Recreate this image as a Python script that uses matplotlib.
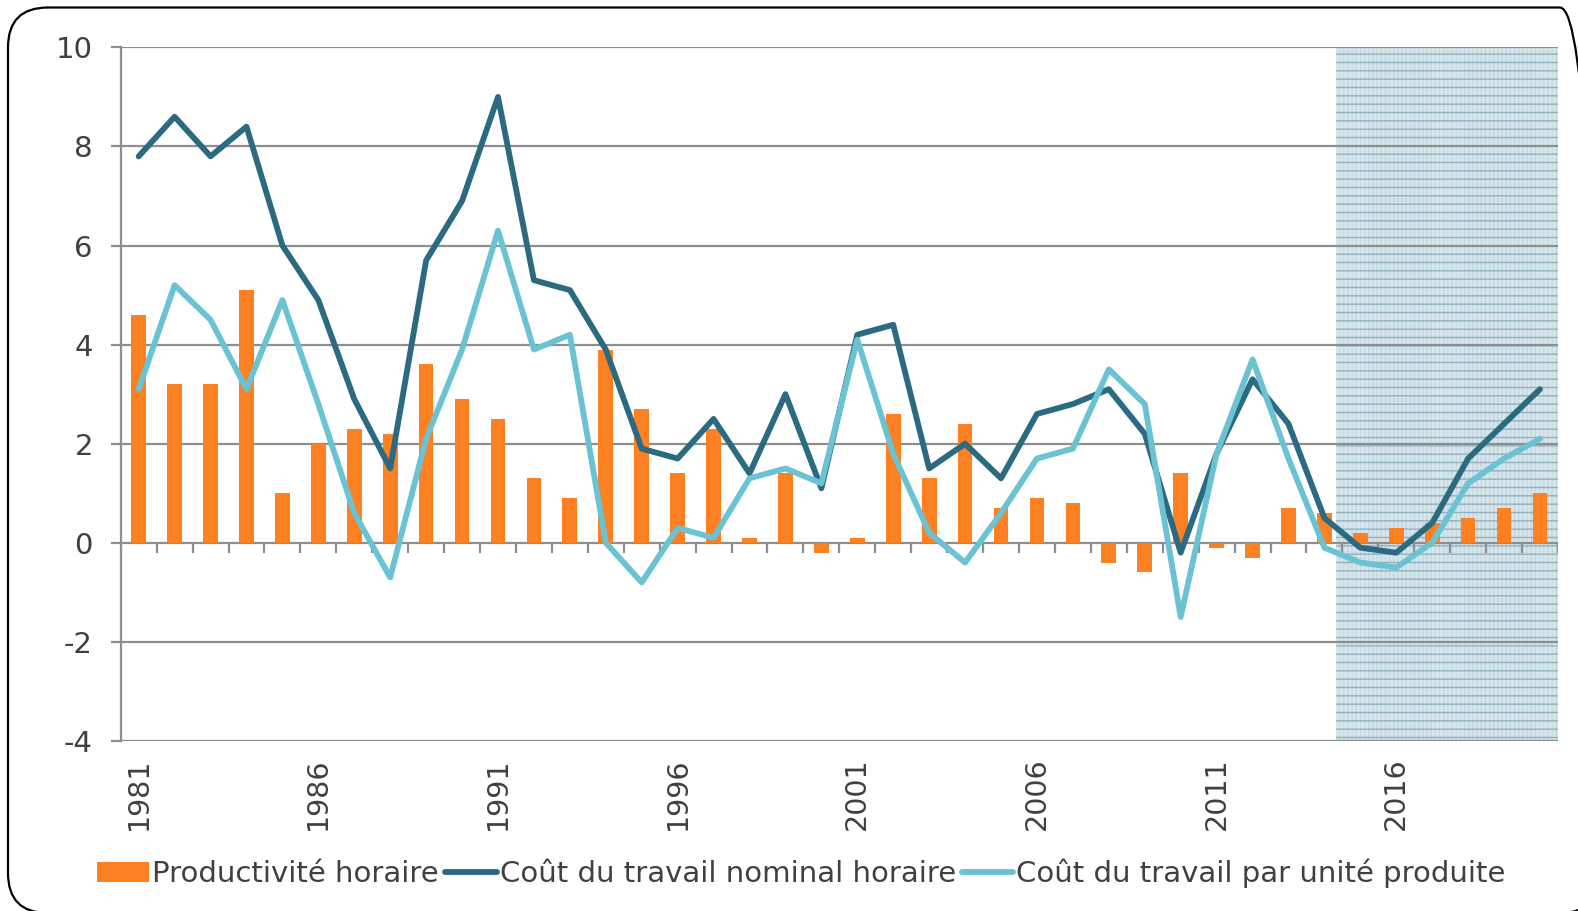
import matplotlib
matplotlib.use("Agg")
import matplotlib.pyplot as plt
from matplotlib.patches import FancyBboxPatch
import numpy as np

years = list(range(1981, 2021))
productivite = [4.6, 3.2, 3.2, 5.1, 1.0, 2.0, 2.3, 2.2, 3.6, 2.9,
                2.5, 1.3, 0.9, 3.9, 2.7, 1.4, 2.3, 0.1, 1.4, -0.2,
                0.1, 2.6, 1.3, 2.4, 0.7, 0.9, 0.8, -0.4, -0.6, 1.4,
                -0.1, -0.3, 0.7, 0.6, 0.2, 0.3, 0.4, 0.5, 0.7, 1.0]
cout_nominal = [7.8, 8.6, 7.8, 8.4, 6.0, 4.9, 2.9, 1.5, 5.7, 6.9,
                9.0, 5.3, 5.1, 3.9, 1.9, 1.7, 2.5, 1.4, 3.0, 1.1,
                4.2, 4.4, 1.5, 2.0, 1.3, 2.6, 2.8, 3.1, 2.2, -0.2,
                1.8, 3.3, 2.4, 0.5, -0.1, -0.2, 0.4, 1.7, 2.4, 3.1]
cout_unitaire = [3.1, 5.2, 4.5, 3.1, 4.9, 2.8, 0.6, -0.7, 2.1, 3.9,
                 6.3, 3.9, 4.2, 0.0, -0.8, 0.3, 0.1, 1.3, 1.5, 1.2,
                 4.1, 1.8, 0.2, -0.4, 0.6, 1.7, 1.9, 3.5, 2.8, -1.5,
                 1.8, 3.7, 1.7, -0.1, -0.4, -0.5, 0.0, 1.2, 1.7, 2.1]
labels = ["Productivité horaire", "Coût du travail nominal horaire",
          "Coût du travail par unité produite"]
yticks = [-4, -2, 0, 2, 4, 6, 8, 10]
label_years = [1981, 1986, 1991, 1996, 2001, 2006, 2011, 2016]
shade_start_year = 2014.32

ORANGE = "#fd8023"
DARK = "#2b6a81"
LIGHT = "#6bc2d2"
GRID = "#8e8e8e"
TXT = "#404040"

plt.rcParams['font.family'] = ['DejaVu Sans']

fig = plt.figure(figsize=(15.78, 9.11), dpi=100)
ax = fig.add_axes([0.0765, 0.1867, 0.9873 - 0.0765, 0.948 - 0.1867])

x = np.arange(len(years))

# shaded forecast zone
x0 = shade_start_year - years[0]
x1 = len(years) - 0.5
ax.axvspan(x0, x1, facecolor="#d9e7ec", edgecolor="none", zorder=0.2)
plt.rcParams['hatch.linewidth'] = 1.0
ax.axvspan(x0, x1, facecolor="none", edgecolor="#c2d7e0", hatch="||||",
           linewidth=0, zorder=0.25)
ax.axvspan(x0, x1, facecolor="none", edgecolor="#8fb1c0", hatch="--",
           linewidth=0, zorder=0.3)

# gridlines
for v in yticks:
    ax.axhline(v, color=GRID, lw=1.6, zorder=0.5)

b = ax.bar(x, productivite, width=0.41, color=ORANGE, zorder=2, label=labels[0])
l1, = ax.plot(x, cout_nominal, color=DARK, lw=4.2, zorder=3, label=labels[1],
              solid_joinstyle='round', solid_capstyle='round')
l2, = ax.plot(x, cout_unitaire, color=LIGHT, lw=4.2, zorder=4, label=labels[2],
              solid_joinstyle='round', solid_capstyle='round')

# category boundary ticks on the zero line
bounds = np.arange(len(years) + 1) - 0.5
ax.vlines(bounds, -0.2, 0, color=GRID, lw=1.6, zorder=0.6)

ax.set_xlim(-0.5, x1)
ax.set_ylim(-4, 10)
ax.set_yticks(yticks)
ax.set_yticklabels([str(v) for v in yticks], fontsize=21, color=TXT)
ax.tick_params(axis='y', length=7, width=1.6, color=GRID, pad=13)
ax.set_xticks([y - years[0] for y in label_years])
ax.set_xticklabels([str(y) for y in label_years], rotation=90, fontsize=20.5,
                   color=TXT)
ax.tick_params(axis='x', length=0, pad=12)

for s in ['top', 'right', 'bottom']:
    ax.spines[s].set_visible(False)
ax.spines['left'].set_color(GRID)
ax.spines['left'].set_linewidth(1.6)

leg = fig.legend([b, l1, l2], labels, loc='center', bbox_to_anchor=(0.508, 0.041),
                 ncol=3, frameon=False, fontsize=21, handlelength=1.78,
                 handletextpad=0.1, columnspacing=0.2, labelcolor=TXT)

# rounded border (right and bottom sides run off the image)
border = FancyBboxPatch((0.08, -0.02), 16.0 - 0.08, 9.11 - 0.075 + 0.02,
                        boxstyle="round,pad=0,rounding_size=0.4",
                        transform=fig.dpi_scale_trans, facecolor='none',
                        edgecolor='black', lw=1.6)
fig.patches.append(border)

fig.savefig("out.png", dpi=100)
